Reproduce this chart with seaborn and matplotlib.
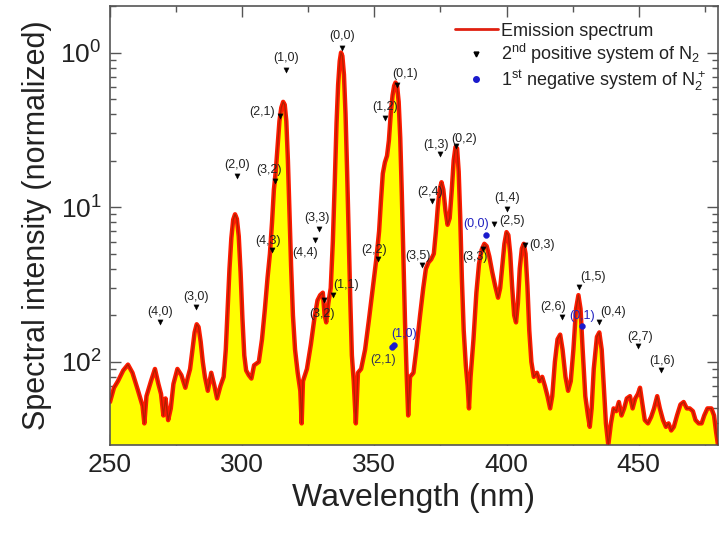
import numpy as np
import pandas as pd
import matplotlib
matplotlib.use("Agg")
import matplotlib.pyplot as plt
import seaborn as sns
from matplotlib.lines import Line2D
from matplotlib.ticker import FixedLocator, FixedFormatter, LogLocator, NullFormatter, MultipleLocator

# Emission spectrum: wavelength (nm) and normalized intensity
wavelength = [
    250.0, 251.5, 253.0, 255.0, 256.8, 258.5, 260.5, 262.3, 263.0, 263.8, 265.5, 267.0,
    268.3, 269.3, 270.2, 271.0, 272.0, 273.0, 274.0, 275.5, 277.0, 278.5, 279.5, 280.3,
    281.2, 282.0, 282.8, 283.5, 284.3, 285.1, 285.9, 287.0, 288.3, 289.5, 290.5, 291.8,
    293.0, 293.8, 294.5, 295.2, 295.9, 296.6, 297.3, 298.0, 298.7, 299.4, 300.1, 300.8,
    301.5, 302.5, 303.5, 304.5, 306.3, 307.5, 308.6, 309.6, 310.5, 311.3, 312.0, 312.7,
    313.4, 314.1, 314.8, 315.5, 316.1, 316.7, 317.3, 317.9, 318.5, 319.2, 320.0, 321.0,
    322.0, 322.5, 323.0, 324.5, 326.0, 327.3, 328.5, 329.5, 330.5, 331.2, 331.8, 332.6,
    333.5, 334.3, 335.0, 335.7, 336.3, 336.9, 337.4, 337.9, 338.5, 339.1, 339.7, 340.3,
    340.9, 341.5, 342.2, 343.0, 343.8, 345.0, 346.5, 348.0, 349.5, 350.8, 351.8, 352.5,
    353.2, 354.0, 354.8, 355.5, 356.2, 356.9, 357.5, 358.0, 358.6, 359.2, 359.8, 360.4,
    361.0, 361.6, 362.2, 362.8, 363.5, 364.8, 366.0, 367.3, 368.5, 369.5, 370.5, 371.5,
    372.5, 373.3, 374.0, 374.7, 375.4, 376.1, 376.9, 377.7, 378.5, 379.3, 380.0, 380.7,
    381.3, 381.9, 382.5, 383.1, 383.8, 384.6, 385.3, 385.8, 386.4, 387.5, 388.6, 389.6,
    390.6, 391.6, 392.5, 393.5, 394.6, 395.7, 396.8, 397.6, 398.4, 399.2, 400.0, 400.7,
    401.4, 402.1, 402.9, 403.6, 404.3, 405.0, 405.8, 406.5, 407.2, 407.9, 408.6, 409.4,
    410.3, 411.5, 412.5, 413.5, 414.5, 415.5, 416.5, 417.3, 418.3, 419.3, 420.3, 421.2,
    422.3, 423.3, 424.3, 425.3, 426.3, 427.2, 428.0, 428.8, 429.8, 430.8, 431.5, 432.2,
    433.0, 434.2, 435.1, 436.0, 436.8, 437.6, 438.5, 439.5, 440.5, 441.5, 442.5, 443.5,
    444.5, 445.5, 446.7, 447.7, 448.7, 449.7, 450.5, 451.3, 452.3, 453.5, 454.7, 455.8,
    457.0, 458.0, 459.2, 460.3, 461.3, 462.3, 463.3, 464.5, 465.8, 467.0, 468.2, 469.3,
    470.5, 471.5, 472.7, 473.8, 474.8, 476.0, 477.5, 478.5, 479.3, 480.0,
]
intensity = [
    0.0055, 0.0068, 0.0075, 0.0088, 0.0096, 0.0085, 0.0066, 0.0052, 0.0040, 0.0060, 0.0075, 0.0090,
    0.0072, 0.0062, 0.0045, 0.0058, 0.0042, 0.0050, 0.0072, 0.0090, 0.0082, 0.0068, 0.0080, 0.0090,
    0.0120, 0.0155, 0.0175, 0.0168, 0.0135, 0.0100, 0.0080, 0.0065, 0.0085, 0.0070, 0.0058, 0.0070,
    0.0080, 0.0120, 0.0220, 0.0400, 0.0630, 0.0830, 0.0900, 0.0840, 0.0650, 0.0380, 0.0190, 0.0110,
    0.0088, 0.0082, 0.0078, 0.0095, 0.0100, 0.0140, 0.0220, 0.0350, 0.0500, 0.0800, 0.1300, 0.1700,
    0.2500, 0.3600, 0.4400, 0.4800, 0.4600, 0.3600, 0.2000, 0.0900, 0.0420, 0.0200, 0.0120, 0.0085,
    0.0065, 0.0040, 0.0075, 0.0090, 0.0130, 0.0190, 0.0250, 0.0270, 0.0280, 0.0200, 0.0180, 0.0240,
    0.0300, 0.0600, 0.1400, 0.3500, 0.6200, 0.8800, 1.0000, 0.9500, 0.7200, 0.4000, 0.1700, 0.0650,
    0.0250, 0.0110, 0.0075, 0.0040, 0.0085, 0.0090, 0.0120, 0.0190, 0.0310, 0.0470, 0.0700, 0.1100,
    0.1650, 0.1950, 0.2150, 0.2700, 0.4000, 0.5300, 0.6100, 0.6400, 0.6100, 0.4800, 0.2800, 0.1200,
    0.0450, 0.0180, 0.0085, 0.0045, 0.0080, 0.0085, 0.0125, 0.0200, 0.0300, 0.0400, 0.0440, 0.0460,
    0.0500, 0.0700, 0.1000, 0.1300, 0.1450, 0.1300, 0.0950, 0.0770, 0.0850, 0.1300, 0.2000, 0.2450,
    0.2400, 0.1700, 0.0850, 0.0350, 0.0160, 0.0095, 0.0070, 0.0050, 0.0080, 0.0140, 0.0280, 0.0430,
    0.0530, 0.0580, 0.0560, 0.0480, 0.0380, 0.0310, 0.0260, 0.0300, 0.0420, 0.0580, 0.0690, 0.0660,
    0.0500, 0.0310, 0.0200, 0.0180, 0.0240, 0.0400, 0.0540, 0.0580, 0.0500, 0.0310, 0.0160, 0.0100,
    0.0080, 0.0085, 0.0075, 0.0080, 0.0070, 0.0060, 0.0050, 0.0060, 0.0100, 0.0140, 0.0150, 0.0120,
    0.0080, 0.0065, 0.0075, 0.0120, 0.0220, 0.0270, 0.0220, 0.0120, 0.0060, 0.0045, 0.0038, 0.0050,
    0.0090, 0.0145, 0.0155, 0.0120, 0.0070, 0.0040, 0.0029, 0.0040, 0.0050, 0.0048, 0.0055, 0.0045,
    0.0050, 0.0058, 0.0060, 0.0050, 0.0058, 0.0062, 0.0068, 0.0055, 0.0042, 0.0040, 0.0044, 0.0050,
    0.0060, 0.0050, 0.0042, 0.0038, 0.0040, 0.0036, 0.0038, 0.0045, 0.0053, 0.0055, 0.0050, 0.0050,
    0.0048, 0.0042, 0.0040, 0.0040, 0.0045, 0.0050, 0.0050, 0.0045, 0.0035, 0.0029,
]

# N2 second positive system band heads (v', v'')
sps_labels = ["(4,0)", "(3,0)", "(2,0)", "(4,3)", "(3,2)", "(2,1)", "(1,0)", "(4,4)", "(3,3)",
              "(3,2)", "(1,1)", "(0,0)", "(2,2)", "(1,2)", "(0,1)", "(3,5)", "(2,4)", "(1,3)",
              "(0,2)", "(3,3)", "(2,5)", "(1,4)", "(0,3)", "(2,6)", "(1,5)", "(0,4)", "(2,7)", "(1,6)"]
sps_wavelength = [268.9, 282.5, 298.2, 311.2, 312.4, 314.3, 316.5, 327.6, 329.2,
                  330.9, 334.5, 337.7, 351.5, 354.0, 358.6, 367.9, 371.7, 374.9,
                  380.8, 391.2, 395.3, 400.3, 407.0, 420.9, 427.6, 435.1, 449.9, 458.3]
sps_intensity = [0.0182, 0.0228, 0.160, 0.0525, 0.147, 0.387, 0.776, 0.061, 0.072,
                 0.025, 0.027, 1.07, 0.046, 0.377, 0.62, 0.0425, 0.109, 0.22,
                 0.25, 0.054, 0.078, 0.097, 0.057, 0.0195, 0.0304, 0.0182, 0.0126, 0.0088]

# N2+ first negative system band heads
fns_labels = ["(2,1)", "(1,0)", "(0,0)", "(0,1)"]
fns_wavelength = [356.6, 357.4, 392.3, 428.4]
fns_intensity = [0.0124, 0.0128, 0.066, 0.017]
fns_label_colors = ["#333355", "#2020c0", "#2020c0", "#2020c0"]

# label offsets in points (dx, dy) relative to each marker
sps_offsets = [(0, 7), (0, 7), (0, 8), (-3, 7), (-4, 8), (-13, 3), (0, 8), (-7, -9), (-2, 8),
               (-1, -10), (9, 7), (0, 9), (-3, 7), (0, 8), (6, 8), (-3, 6), (-1, 7), (-3, 7),
               (6, 5), (-6, -6), (13, 2), (0, 8), (12, 0), (-6, 7), (10, 7), (10, 7), (1, 7), (1, 7)]
fns_offsets = [(-6, -9), (7, 8), (-7, 8), (0, 7)]

plt.rcParams["font.family"] = ["Liberation Sans", "DejaVu Sans"]
sns.set_style("ticks")
plt.rcParams["font.family"] = ["Liberation Sans", "DejaVu Sans"]
plt.rcParams["mathtext.default"] = "regular"

fig = plt.figure(figsize=(7.26, 5.41), dpi=100)
ax = fig.add_axes([110 / 726, 96 / 541, 608 / 726, 439 / 541])

spec = pd.DataFrame({"wavelength": wavelength, "intensity": intensity})
ymin, ymax = 0.0029, 2.0

ax.fill_between(spec["wavelength"], spec["intensity"], 1e-5, color="#ffff00", lw=0, zorder=1)
sns.lineplot(data=spec, x="wavelength", y="intensity", ax=ax, color="#ff1a00", lw=3.2,
             zorder=2, legend=False)
sns.lineplot(data=spec, x="wavelength", y="intensity", ax=ax, color="#b02000", lw=0.9,
             zorder=3, legend=False)

sps = pd.DataFrame({"wavelength": sps_wavelength, "intensity": sps_intensity})
fns = pd.DataFrame({"wavelength": fns_wavelength, "intensity": fns_intensity})
sns.scatterplot(data=sps, x="wavelength", y="intensity", ax=ax, marker="v", s=14,
                color="black", edgecolor="black", linewidth=0.3, zorder=5)
sns.scatterplot(data=fns, x="wavelength", y="intensity", ax=ax, marker="o", s=18,
                color="#1a1acc", edgecolor="#1a1acc", linewidth=0.3, zorder=5)

for lab, x, y, (dx, dy) in zip(sps_labels, sps_wavelength, sps_intensity, sps_offsets):
    ax.annotate(lab, (x, y), xytext=(dx, dy), textcoords="offset points",
                ha="center", va="center", fontsize=9, color="#222222", zorder=6)
for lab, x, y, (dx, dy), c in zip(fns_labels, fns_wavelength, fns_intensity, fns_offsets,
                                  fns_label_colors):
    ax.annotate(lab, (x, y), xytext=(dx, dy), textcoords="offset points",
                ha="center", va="center", fontsize=9, color=c, zorder=6)

ax.set_yscale("log")
ax.set_xlim(250, 480)
ax.set_ylim(ymin, ymax)

ax.xaxis.set_major_locator(MultipleLocator(50))
ax.xaxis.set_minor_locator(MultipleLocator(25))
ax.yaxis.set_major_locator(FixedLocator([1.0, 0.1, 0.01]))
ax.yaxis.set_major_formatter(FixedFormatter(["10$^0$", "10$^1$", "10$^2$"]))
ax.yaxis.set_minor_locator(LogLocator(base=10, subs=np.arange(2, 10)))
ax.yaxis.set_minor_formatter(NullFormatter())

ax.tick_params(which="both", direction="in", top=True, right=True, colors="#555555",
               labelcolor="#222222", width=1.0)
ax.tick_params(which="major", length=8, labelsize=19, pad=6)
ax.tick_params(which="minor", length=4)
for s in ax.spines.values():
    s.set_color("#555555")
    s.set_linewidth(1.2)

ax.set_xlabel("Wavelength (nm)", fontsize=23, color="#222222", labelpad=4)
ax.set_ylabel("Spectral intensity (normalized)", fontsize=22, color="#222222", labelpad=6)

handles = [
    Line2D([0], [0], color="#e02010", lw=2),
    Line2D([0], [0], color="black", marker="v", ls="none", markersize=3.5),
    Line2D([0], [0], color="#1a1acc", marker="o", ls="none", markersize=4),
]
labels = ["Emission spectrum", "2$^{nd}$ positive system of N$_2$",
          "1$^{st}$ negative system of N$_2^+$"]
ax.legend(handles, labels, loc="upper left", bbox_to_anchor=(0.567, 0.962), frameon=False,
          fontsize=13, handlelength=2.4, handletextpad=0.15, labelspacing=0.12,
          borderpad=0, borderaxespad=0, labelcolor="#222222")

fig.savefig("out.png", dpi=100)
